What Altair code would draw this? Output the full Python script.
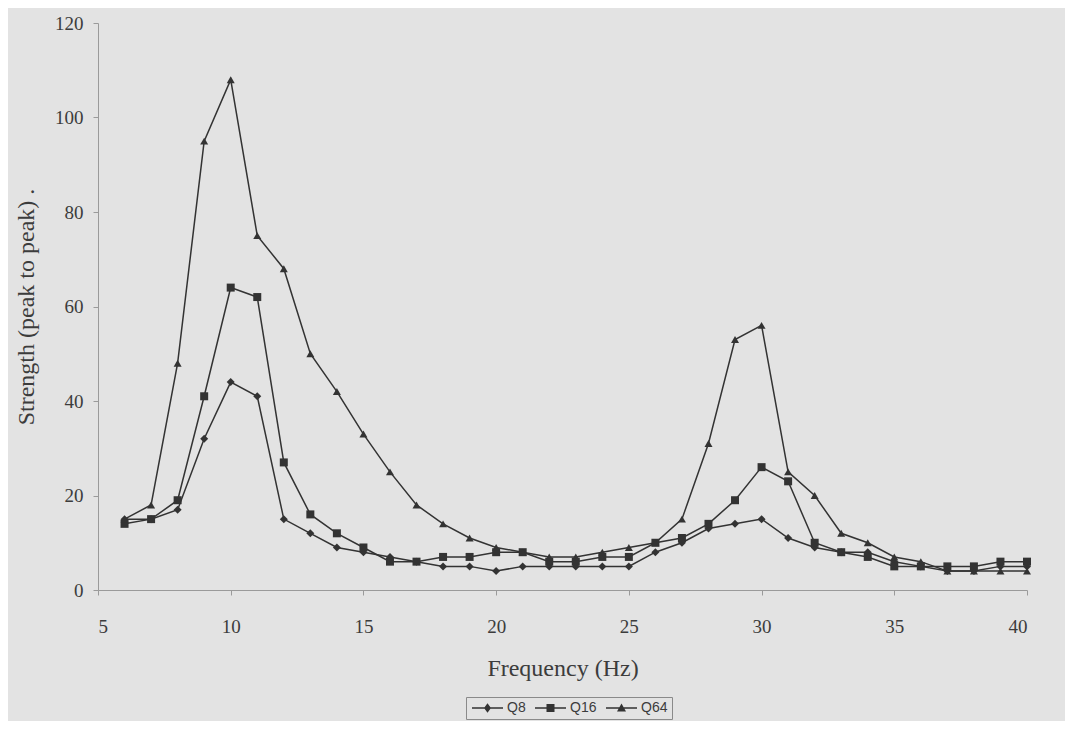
import altair as alt
import pandas as pd

freq = list(range(6, 41))
q8 = [15, 15, 17, 32, 44, 41, 15, 12, 9, 8, 7, 6, 5, 5, 4, 5, 5, 5, 5, 5,
      8, 10, 13, 14, 15, 11, 9, 8, 8, 6, 5, 4, 4, 5, 5]
q16 = [14, 15, 19, 41, 64, 62, 27, 16, 12, 9, 6, 6, 7, 7, 8, 8, 6, 6, 7, 7,
       10, 11, 14, 19, 26, 23, 10, 8, 7, 5, 5, 5, 5, 6, 6]
q64 = [15, 18, 48, 95, 108, 75, 68, 50, 42, 33, 25, 18, 14, 11, 9, 8, 7, 7, 8, 9,
       10, 15, 31, 53, 56, 25, 20, 12, 10, 7, 6, 4, 4, 4, 4]
series_names = ["Q8", "Q16", "Q64"]
x_ticks = [5, 10, 15, 20, 25, 30, 35, 40]
y_ticks = [0, 20, 40, 60, 80, 100, 120]

rows = []
for name, vals in zip(series_names, [q8, q16, q64]):
    for f, v in zip(freq, vals):
        rows.append({"Frequency": f, "Strength": v, "Series": name})
df = pd.DataFrame(rows)

INK = "#333333"
TXT = "#3c3c3c"
AXC = "#9a9a9a"
SERIF = "Liberation Serif"

# legend glyphs: short line with the marker in its middle
# (path units are sqrt(symbolSize)/2 = 5 px)
LINE = "M-1,-0.14 L5.2,-0.14 L5.2,0.14 L-1,0.14 Z "
P8 = LINE + "M2.1,-0.95 L2.8,0 L2.1,0.95 L1.4,0 Z"
P16 = LINE + "M1.3,-0.8 L2.9,-0.8 L2.9,0.8 L1.3,0.8 Z"
P64 = LINE + "M2.1,-0.9 L3.0,0.7 L1.2,0.7 Z"

xenc = alt.X("Frequency:Q",
             scale=alt.Scale(domain=[5, 40], nice=False, zero=False),
             axis=alt.Axis(values=x_ticks, title="Frequency (Hz)", grid=False,
                           labelFontSize=19, labelPadding=22, titlePadding=20,
                           titleFontSize=24))
yenc = alt.Y("Strength:Q",
             scale=alt.Scale(domain=[0, 120], nice=False),
             axis=alt.Axis(values=y_ticks, title="Strength (peak to peak) .",
                           grid=False, labelFontSize=19, labelPadding=10,
                           titlePadding=16, titleFontSize=24))

base = alt.Chart(df)
lines = base.mark_line(color=INK, strokeWidth=1.5).encode(
    x=xenc, y=yenc, detail="Series:N")
points = base.mark_point(filled=True, color=INK, opacity=1, size=64).encode(
    x=xenc, y=yenc,
    shape=alt.Shape("Series:N",
                    scale=alt.Scale(domain=series_names,
                                    range=["diamond", "square", "triangle-up"]),
                    legend=None))
legend_layer = base.mark_point(filled=True, color=INK, opacity=0, size=60).encode(
    x=xenc, y=yenc,
    shape=alt.Shape("Series:N",
                    scale=alt.Scale(domain=series_names, range=[P8, P16, P64]),
                    legend=alt.Legend(
                        title=None, orient="none", direction="horizontal",
                        legendX=368, legendY=674,
                        symbolSize=100, symbolFillColor=INK,
                        symbolStrokeWidth=0, symbolOpacity=1,
                        labelFont="Liberation Sans", labelFontSize=14,
                        labelColor=TXT, labelOffset=23, columnPadding=7,
                        strokeColor="#8a8a8a", padding=4)))

chart = alt.layer(lines, points, legend_layer).resolve_scale(
    shape="independent"
).properties(
    width=929, height=567,
    autosize=alt.AutoSizeParams(type="none"),
    padding={"left": 90, "top": 15, "right": 38, "bottom": 131},
    background="#e3e3e3",
).configure_view(stroke=None).configure_axis(
    labelFont=SERIF, titleFont=SERIF, labelColor=TXT, titleColor=TXT,
    titleFontWeight="normal", domainColor=AXC, tickColor=AXC, tickSize=5,
    domainWidth=1,
)

chart.save("out.html", embed_options={"renderer": "svg", "actions": False})
